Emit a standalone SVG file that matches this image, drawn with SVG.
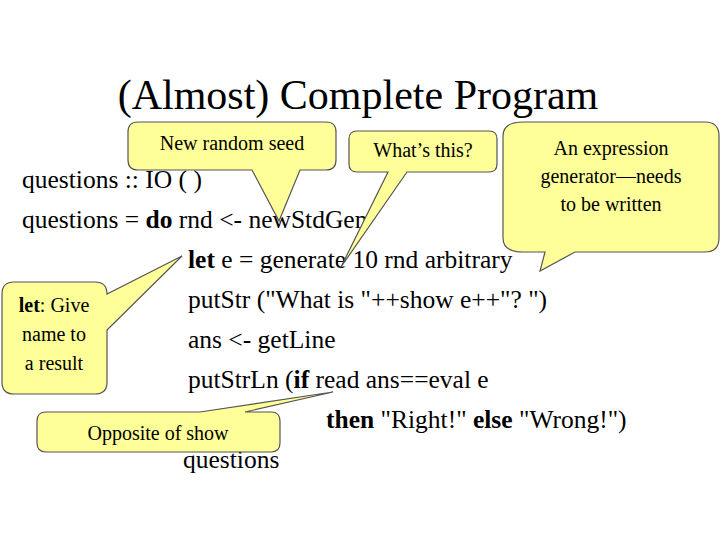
<svg xmlns="http://www.w3.org/2000/svg" width="720" height="540" viewBox="0 0 720 540" font-family="'Liberation Serif', 'DejaVu Serif', serif">
<style>
text{font-family:'Liberation Serif','DejaVu Serif',serif;fill:#000}
.code{font-size:25.5px}
.co{font-size:20px;text-anchor:middle}
.call{fill:#ffff99;stroke:#555;stroke-width:1.2}
</style>
<rect width="720" height="540" fill="#fff"/>
<text x="358" y="109" font-size="42" text-anchor="middle" font-family="Liberation Serif, serif">(Almost) Complete Program</text>
<g id="code" class="code" font-family="Liberation Serif, serif">
<text x="22" y="188">questions :: IO ( )</text>
<text x="22" y="228">questions = <tspan font-weight="bold">do</tspan> rnd &lt;- newStdGen</text>
<text x="188" y="268"><tspan font-weight="bold">let</tspan> e = generate 10 rnd arbitrary</text>
<text x="188" y="308">putStr ("What is "++show e++"? ")</text>
<text x="188" y="348">ans &lt;- getLine</text>
<text x="188" y="388">putStrLn (<tspan font-weight="bold">if</tspan> read ans==eval e</text>
<text x="326" y="428"><tspan font-weight="bold">then</tspan> "Right!" <tspan font-weight="bold">else</tspan> "Wrong!")</text>
<text x="183" y="468">questions</text>
</g>
<g id="callouts" font-family="Liberation Serif, serif">
<g id="c1">
<path class="call" d="M138,122 H326 Q336,122 336,132 V160 Q336,170 326,170 H300 L279,221 L252,170 H138 Q128,170 128,160 V132 Q128,122 138,122 Z"/>
<text class="co" x="232" y="150">New random seed</text>
</g>
<g id="c2">
<path class="call" d="M357,131 H489 Q497,131 497,139 V164 Q497,172 489,172 H407 L341,267 L388,172 H357 Q349,172 349,164 V139 Q349,131 357,131 Z"/>
<text class="co" x="423" y="157">What’s this?</text>
</g>
<g id="c3">
<path class="call" d="M523,122 H705 Q719,122 719,136 V238 Q719,252 705,252 H575 L540,271 L545,252 H523 Q503,252 503,238 V136 Q503,122 523,122 Z"/>
<text class="co" x="611" y="155">An expression</text>
<text class="co" x="611" y="183">generator—needs</text>
<text class="co" x="611" y="211">to be written</text>
</g>
<g id="c4">
<path class="call" d="M14,282 H95 Q107,282 107,294 L182,256 L107,330 V382 Q107,394 95,394 H14 Q2,394 2,382 V294 Q2,282 14,282 Z"/>
<text class="co" x="54" y="312"><tspan font-weight="bold">let</tspan>: Give</text>
<text class="co" x="54" y="341">name to</text>
<text class="co" x="54" y="370">a result</text>
</g>
<g id="c5">
<path class="call" d="M46,412 H200 L333,392 L245,412 H271 Q280,412 280,421 V443 Q280,452 271,452 H46 Q37,452 37,443 V421 Q37,412 46,412 Z"/>
<text class="co" x="158" y="440">Opposite of show</text>
</g>
</g>
</svg>
